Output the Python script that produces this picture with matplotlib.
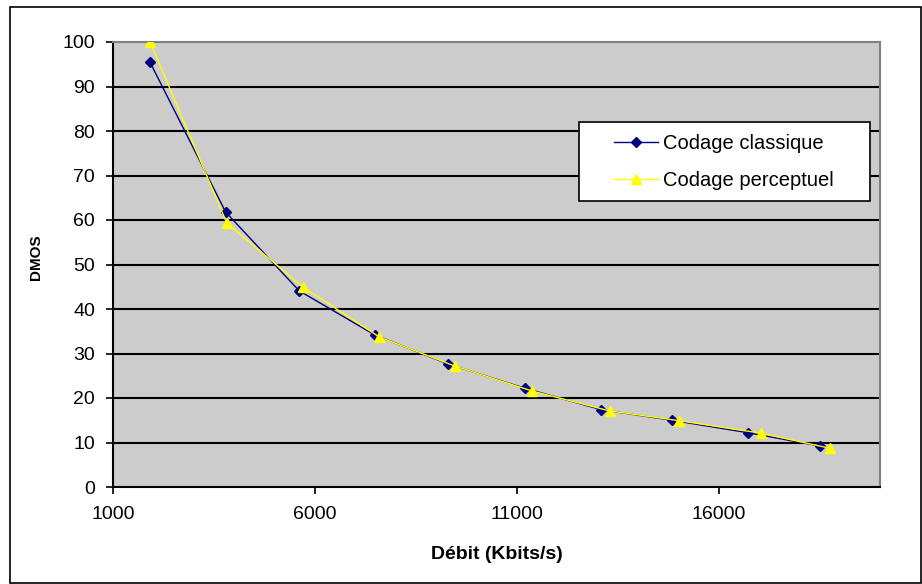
import matplotlib
matplotlib.use("Agg")
import matplotlib.pyplot as plt
from matplotlib.patches import Rectangle

plt.rcParams["font.family"] = ["Liberation Sans", "DejaVu Sans"]

# values
debit_classique = [1920, 3790, 5610, 7480, 9310, 11200, 13080, 14840, 16730, 18510]
dmos_classique = [95.4, 61.8, 44.1, 34.2, 27.6, 22.2, 17.4, 15.0, 12.2, 9.2]

debit_perceptuel = [1920, 3820, 5710, 7600, 9460, 11370, 13300, 15020, 17050, 18760]
dmos_perceptuel = [100, 59.3, 44.9, 33.7, 27.2, 21.6, 17.1, 14.9, 12.1, 8.7]

x_ticks = [1000, 6000, 11000, 16000]
y_ticks = list(range(0, 101, 10))

fig = plt.figure(figsize=(9.22, 5.84), dpi=100)
ax = fig.add_axes([113 / 922, 1 - 487 / 584, 767 / 922, 445 / 584])
ax.set_facecolor("#cccccc")

# outer chart frame
fig.patches.append(Rectangle((10 / 922, 1 / 584), 911 / 922, 576 / 584,
                             transform=fig.transFigure, fill=False,
                             edgecolor="black", linewidth=1.2))

for yv in y_ticks[1:-1]:
    ax.axhline(yv, color="black", linewidth=1.5, zorder=1)

ax.plot(debit_classique, dmos_classique, color="#000080", linewidth=1.0,
        marker="D", markersize=5.5, markeredgecolor="#000080",
        label="Codage classique", zorder=3)
ax.plot(debit_perceptuel, dmos_perceptuel, color="#ffff00", linewidth=1.0,
        marker="^", markersize=7.5, markeredgecolor="#ffff00",
        label="Codage perceptuel", zorder=4)

ax.set_xlim(1000, 20000)
ax.set_ylim(0, 100)
ax.set_xticks(x_ticks)
ax.set_yticks(y_ticks)
ax.tick_params(axis="both", direction="out", length=5, width=1.2,
               labelsize=14, colors="black")
ax.tick_params(axis="y", pad=8)
ax.tick_params(axis="x", pad=9)

for side in ["top", "right"]:
    ax.spines[side].set_color("#808080")
    ax.spines[side].set_linewidth(1.5)
for side in ["left", "bottom"]:
    ax.spines[side].set_color("black")
    ax.spines[side].set_linewidth(1.5)

ax.set_xlabel("Débit (Kbits/s)", fontsize=14, fontweight="bold", labelpad=16)
ax.set_ylabel("DMOS", fontsize=11, fontweight="bold")
ax.yaxis.set_label_coords(-0.091, 0.517)

# legend box
ax.add_patch(Rectangle((0.6076, 0.643), 0.3794, 0.177, transform=ax.transAxes,
                       facecolor="white", edgecolor="black", linewidth=1.2,
                       zorder=5))
ax.legend(loc="upper left", bbox_to_anchor=(0.6528, 0.793), frameon=False,
          fontsize=14.5, handlelength=2.2, handletextpad=0.25,
          labelspacing=0.9, borderpad=0, borderaxespad=0).set_zorder(6)

fig.savefig("out.png", dpi=100)
